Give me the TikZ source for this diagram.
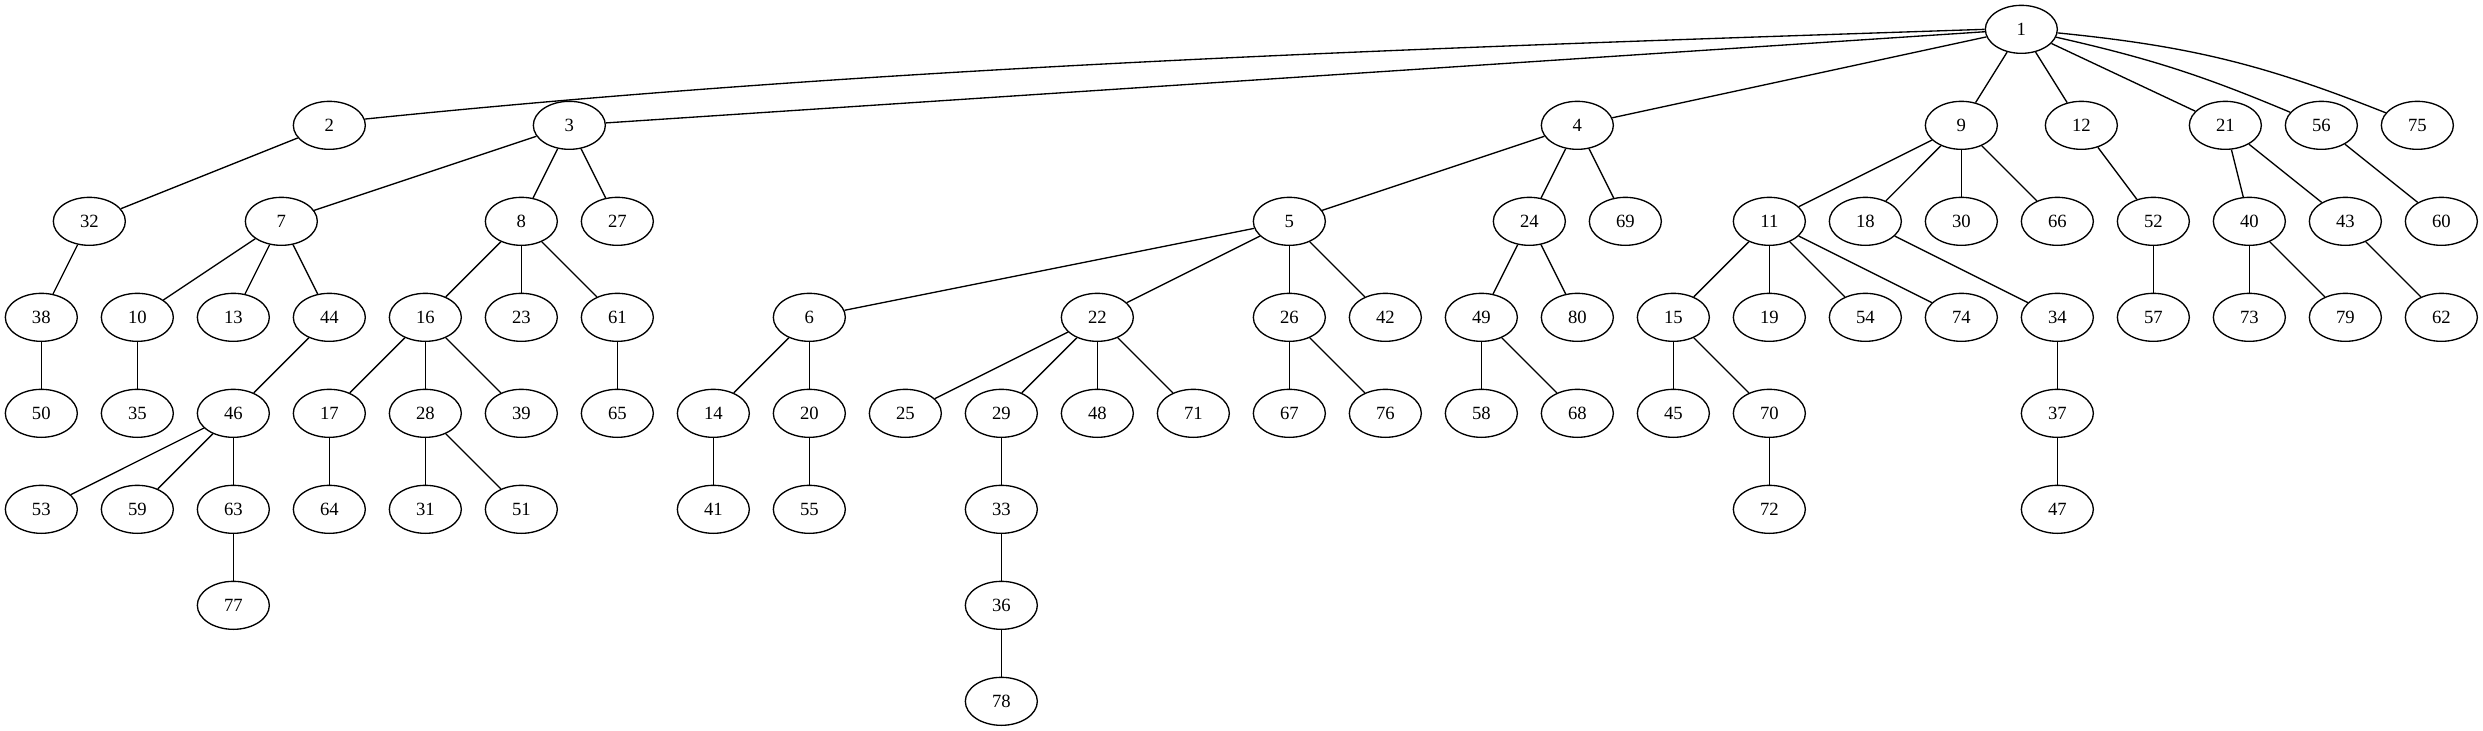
\documentclass[tikz,border=0pt]{standalone}
\usepackage{fontspec}
\setmainfont{Liberation Serif}
\usetikzlibrary{shapes.geometric}

\begin{document}
\begin{tikzpicture}[
    x=72pt, y=-72pt,
    vertex/.style={ellipse, draw, line width=1pt, minimum width=54pt, minimum height=36pt, inner sep=0pt, font=\fontsize{14}{16}\selectfont},
    link/.style={line width=1pt}
]
\useasboundingbox (-31pt,22pt) rectangle (1831.25pt,-526.25pt);

% root
\node[vertex] (n1) at (20.625,0) {1};

% level 1
\node[vertex] (n2) at (3,1) {2};
\node[vertex] (n3) at (5.5,1) {3};
\node[vertex] (n4) at (16,1) {4};
\node[vertex] (n9) at (20,1) {9};
\node[vertex] (n12) at (21.25,1) {12};
\node[vertex] (n21) at (22.75,1) {21};
\node[vertex] (n56) at (23.75,1) {56};
\node[vertex] (n75) at (24.75,1) {75};

% level 2
\node[vertex] (n32) at (0.5,2) {32};
\node[vertex] (n7) at (2.5,2) {7};
\node[vertex] (n8) at (5,2) {8};
\node[vertex] (n27) at (6,2) {27};
\node[vertex] (n5) at (13,2) {5};
\node[vertex] (n24) at (15.5,2) {24};
\node[vertex] (n69) at (16.5,2) {69};
\node[vertex] (n11) at (18,2) {11};
\node[vertex] (n18) at (19,2) {18};
\node[vertex] (n30) at (20,2) {30};
\node[vertex] (n66) at (21,2) {66};
\node[vertex] (n52) at (22,2) {52};
\node[vertex] (n40) at (23,2) {40};
\node[vertex] (n43) at (24,2) {43};
\node[vertex] (n60) at (25,2) {60};

% level 3
\node[vertex] (n38) at (0,3) {38};
\node[vertex] (n10) at (1,3) {10};
\node[vertex] (n13) at (2,3) {13};
\node[vertex] (n44) at (3,3) {44};
\node[vertex] (n16) at (4,3) {16};
\node[vertex] (n23) at (5,3) {23};
\node[vertex] (n61) at (6,3) {61};
\node[vertex] (n6) at (8,3) {6};
\node[vertex] (n22) at (11,3) {22};
\node[vertex] (n26) at (13,3) {26};
\node[vertex] (n42) at (14,3) {42};
\node[vertex] (n49) at (15,3) {49};
\node[vertex] (n80) at (16,3) {80};
\node[vertex] (n15) at (17,3) {15};
\node[vertex] (n19) at (18,3) {19};
\node[vertex] (n54) at (19,3) {54};
\node[vertex] (n74) at (20,3) {74};
\node[vertex] (n34) at (21,3) {34};
\node[vertex] (n57) at (22,3) {57};
\node[vertex] (n73) at (23,3) {73};
\node[vertex] (n79) at (24,3) {79};
\node[vertex] (n62) at (25,3) {62};

% level 4
\node[vertex] (n50) at (0,4) {50};
\node[vertex] (n35) at (1,4) {35};
\node[vertex] (n46) at (2,4) {46};
\node[vertex] (n17) at (3,4) {17};
\node[vertex] (n28) at (4,4) {28};
\node[vertex] (n39) at (5,4) {39};
\node[vertex] (n65) at (6,4) {65};
\node[vertex] (n14) at (7,4) {14};
\node[vertex] (n20) at (8,4) {20};
\node[vertex] (n25) at (9,4) {25};
\node[vertex] (n29) at (10,4) {29};
\node[vertex] (n48) at (11,4) {48};
\node[vertex] (n71) at (12,4) {71};
\node[vertex] (n67) at (13,4) {67};
\node[vertex] (n76) at (14,4) {76};
\node[vertex] (n58) at (15,4) {58};
\node[vertex] (n68) at (16,4) {68};
\node[vertex] (n45) at (17,4) {45};
\node[vertex] (n70) at (18,4) {70};
\node[vertex] (n37) at (21,4) {37};

% level 5
\node[vertex] (n53) at (0,5) {53};
\node[vertex] (n59) at (1,5) {59};
\node[vertex] (n63) at (2,5) {63};
\node[vertex] (n64) at (3,5) {64};
\node[vertex] (n31) at (4,5) {31};
\node[vertex] (n51) at (5,5) {51};
\node[vertex] (n41) at (7,5) {41};
\node[vertex] (n55) at (8,5) {55};
\node[vertex] (n33) at (10,5) {33};
\node[vertex] (n72) at (18,5) {72};
\node[vertex] (n47) at (21,5) {47};

% levels 6 and 7
\node[vertex] (n77) at (2,6) {77};
\node[vertex] (n36) at (10,6) {36};
\node[vertex] (n78) at (10,7) {78};

% edges
\foreach \a/\b in {1/3,1/4,1/9,1/12,1/21,
    2/32,3/7,3/8,3/27,4/5,4/24,4/69,9/11,9/18,9/30,9/66,12/52,21/40,21/43,56/60,
    32/38,7/10,7/13,7/44,8/16,8/23,8/61,5/6,5/22,5/26,5/42,24/49,24/80,
    11/15,11/19,11/54,11/74,18/34,52/57,40/73,40/79,43/62,
    38/50,10/35,44/46,16/17,16/28,16/39,61/65,6/14,6/20,22/25,22/29,22/48,22/71,
    26/67,26/76,49/58,49/68,15/45,15/70,34/37,
    46/53,46/59,46/63,17/64,28/31,28/51,14/41,20/55,29/33,70/72,37/47,
    63/77,33/36,36/78}
    \draw[link] (n\a) -- (n\b);
\draw[link] (n1.west) .. controls (14.69,0.185) and (8.886,0.368) .. (n2.10);
\draw[link] (n1) to[bend left=5] (n56);
\draw[link] (n1) to[bend left=8] (n75);

\end{tikzpicture}
\end{document}
